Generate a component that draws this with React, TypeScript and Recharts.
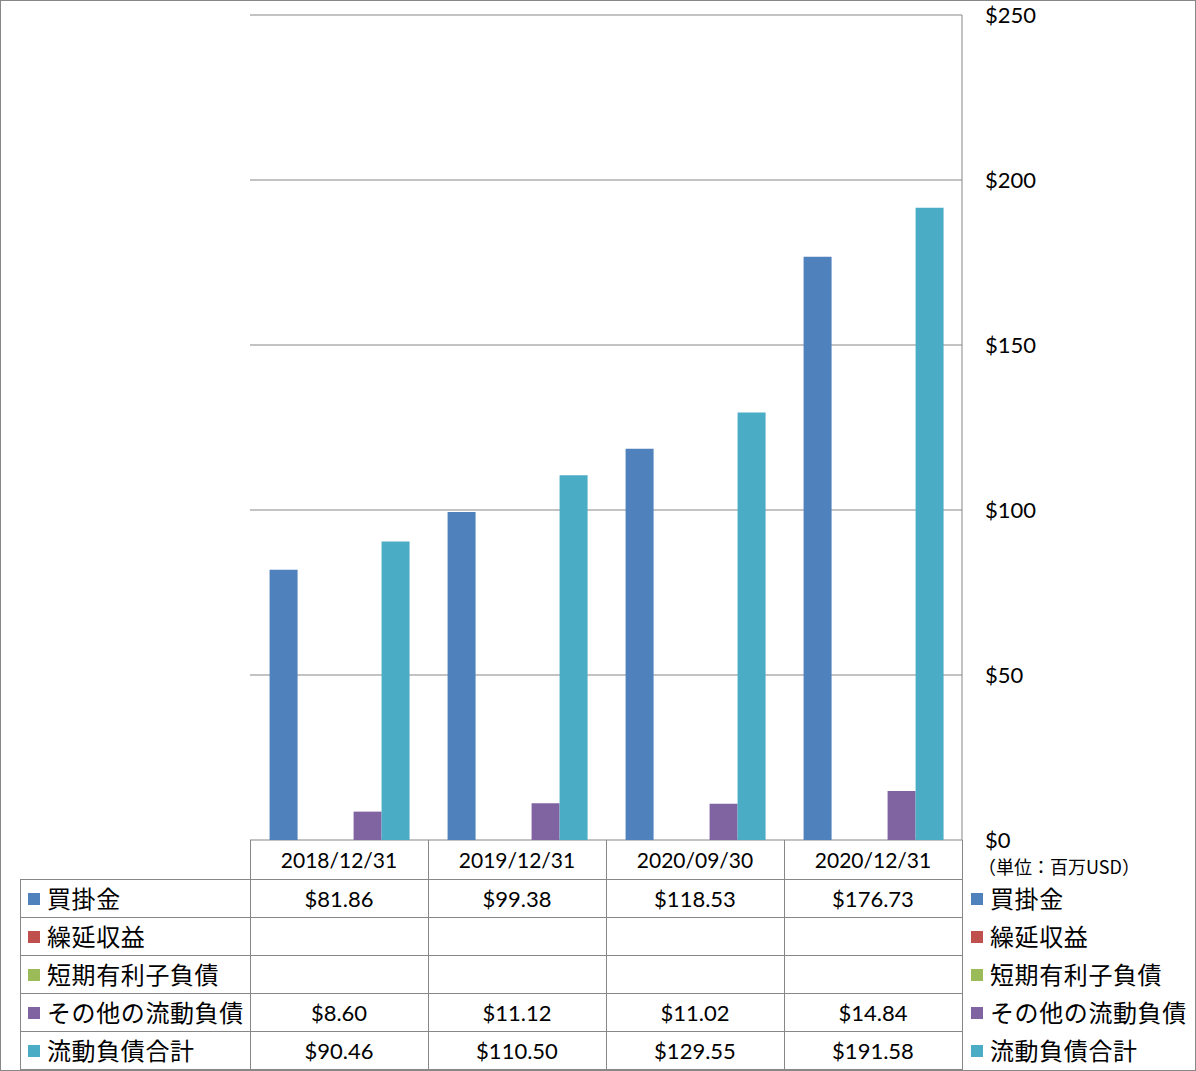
import React from 'react';
import { BarChart, Bar, YAxis, XAxis, CartesianGrid } from 'recharts';

const categories = ['2018/12/31', '2019/12/31', '2020/09/30', '2020/12/31'];
const seriesNames = ['買掛金', '繰延収益', '短期有利子負債', 'その他の流動負債', '流動負債合計'];
const seriesColors = ['#4F81BD', '#C0504D', '#9BBB59', '#8064A2', '#4BACC6'];
const accountsPayable: (number | null)[] = [81.86, 99.38, 118.53, 176.73];
const deferredRevenue: (number | null)[] = [null, null, null, null];
const shortTermDebt: (number | null)[] = [null, null, null, null];
const otherCurrent: (number | null)[] = [8.6, 11.12, 11.02, 14.84];
const totalCurrent: (number | null)[] = [90.46, 110.5, 129.55, 191.58];
const yTicks = [0, 50, 100, 150, 200, 250];
const unitLabel = '（単位：百万USD）';

const seriesValues = [accountsPayable, deferredRevenue, shortTermDebt, otherCurrent, totalCurrent];
const keys = ['s0', 's1', 's2', 's3', 's4'];

const data = categories.map((c, i) => {
  const row: any = { name: c };
  seriesValues.forEach((arr, s) => {
    row[keys[s]] = arr[i];
  });
  return row;
});

const W = 1196;
const H = 1071;
const plotLeft = 250;
const plotRight = 962;
const plotTop = 15;
const plotBottom = 840;
const yAxisW = 60;
const headerBottom = 879;
const rowH = 38;
const tableLeft = 20;

const NUM_FONT = 'Lato, "Noto Sans", sans-serif';
const JP_FONT = '"Noto Sans CJK JP", "Noto Sans", sans-serif';
const GRID = '#878787';

const fmt = (v: number | null) => (v == null ? '' : `$${v.toFixed(2)}`);

const RightTick = (props: any) => (
  <text
    x={props.x + 23}
    y={props.y}
    dy="0.36em"
    textAnchor="start"
    fontFamily={NUM_FONT}
    fontSize={22}
    fill="#000"
  >{`$${props.payload.value}`}</text>
);

function Table() {
  const colW = (plotRight - plotLeft) / categories.length;
  const lines: React.ReactNode[] = [];
  for (let r = 0; r <= seriesNames.length; r++) {
    const y = headerBottom + r * rowH + 0.5;
    lines.push(<line key={`h${r}`} x1={tableLeft} x2={plotRight} y1={y} y2={y} stroke={GRID} strokeWidth={1} />);
  }
  lines.push(<line key="vl" x1={tableLeft + 0.5} x2={tableLeft + 0.5} y1={headerBottom} y2={headerBottom + rowH * seriesNames.length} stroke={GRID} />);
  for (let c = 0; c < categories.length; c++) {
    const x = plotLeft + c * colW + 0.5;
    lines.push(<line key={`v${c}`} x1={x} x2={x} y1={plotBottom} y2={headerBottom + rowH * seriesNames.length} stroke={GRID} />);
  }
  lines.push(<line key="vr" x1={plotRight + 0.5} x2={plotRight + 0.5} y1={plotBottom} y2={H - 1} stroke={GRID} />);

  const texts: React.ReactNode[] = [];
  categories.forEach((c, i) => {
    texts.push(
      <text key={`c${i}`} x={plotLeft + (i + 0.5) * colW} y={(plotBottom + headerBottom) / 2 + 1} dy="0.36em" textAnchor="middle" fontFamily={NUM_FONT} fontSize={21} fill="#000">{c}</text>
    );
  });
  seriesNames.forEach((n, s) => {
    const cy = headerBottom + (s + 0.5) * rowH + 1;
    texts.push(<rect key={`lsq${s}`} x={28} y={cy - 6} width={12} height={12} fill={seriesColors[s]} />);
    texts.push(<text key={`ln${s}`} x={47} y={cy} dy="0.36em" fontFamily={JP_FONT} fontSize={24} letterSpacing={0.6} fill="#000">{n}</text>);
    texts.push(<rect key={`rsq${s}`} x={971} y={cy - 6} width={12} height={12} fill={seriesColors[s]} />);
    texts.push(<text key={`rn${s}`} x={990} y={cy} dy="0.36em" fontFamily={JP_FONT} fontSize={24} letterSpacing={0.6} fill="#000">{n}</text>);
    seriesValues[s].forEach((v, i) => {
      texts.push(
        <text key={`v${s}-${i}`} x={plotLeft + (i + 0.5) * colW} y={cy} dy="0.36em" textAnchor="middle" fontFamily={NUM_FONT} fontSize={22} fill="#000">{fmt(v)}</text>
      );
    });
  });
  texts.push(<text key="unit" x={978} y={868} dy="0.36em" fontFamily={JP_FONT} fontSize={18} fill="#000">{unitLabel}</text>);

  return (
    <svg width={W} height={H} style={{ position: 'absolute', left: 0, top: 0, pointerEvents: 'none' }}>
      <rect x={0.5} y={0.5} width={W - 1} height={H - 1} fill="none" stroke={GRID} />
      {lines}
      {texts}
    </svg>
  );
}

export default function App() {
  return (
    <div style={{ position: 'absolute', left: 0, top: 0, width: W, height: H, background: '#fff' }}>
      <BarChart
        width={W}
        height={H}
        data={data}
        margin={{ left: plotLeft, right: W - plotRight - yAxisW, top: plotTop, bottom: H - plotBottom }}
        barCategoryGap="11%"
        barGap={0}
      >
        <CartesianGrid vertical={false} stroke={GRID} strokeWidth={1} />
        <XAxis dataKey="name" hide />
        <YAxis
          orientation="right"
          width={yAxisW}
          domain={[0, 250]}
          ticks={yTicks}
          interval={0}
          axisLine={{ stroke: GRID }}
          tickLine={false}
          tickSize={0}
          tickMargin={0}
          tick={<RightTick />}
        />
        {keys.map((k, s) => (
          <Bar key={k} dataKey={k} name={seriesNames[s]} fill={seriesColors[s]} isAnimationActive={false} />
        ))}
      </BarChart>
      <Table />
    </div>
  );
}
